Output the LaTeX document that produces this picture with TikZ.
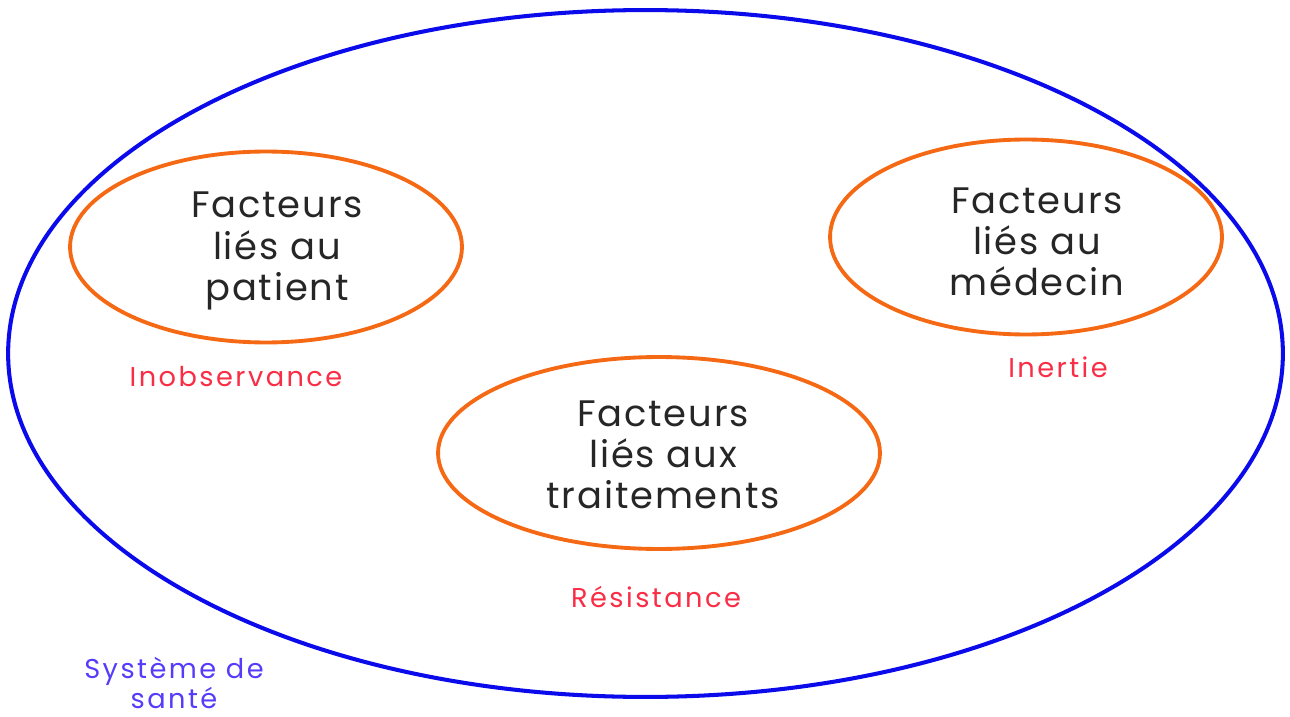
\documentclass[tikz,border=0pt]{standalone}
\usepackage{fontspec}
\setmainfont{Poppins}
\newfontfamily\factorfont[LetterSpace=5]{Poppins}
\newfontfamily\tagfont[LetterSpace=9]{Poppins}
\usetikzlibrary{shapes.geometric}

\definecolor{sysblue}{RGB}{10,10,235}
\definecolor{ringorange}{RGB}{245,105,20}
\definecolor{tagred}{RGB}{250,45,70}
\definecolor{systext}{RGB}{85,60,250}

\begin{document}
\begin{tikzpicture}[
  x=0.02cm, y=-0.02cm,
  sysring/.style={draw=sysblue, ellipse, line width=2.3pt, inner sep=0pt},
  ring/.style={draw=ringorange, ellipse, line width=2.2pt, inner sep=0pt},
  factor/.style={align=center, font=\factorfont\fontsize{21}{23.5}\selectfont, text=black!85},
  tag/.style={font=\tagfont\fontsize{15.5}{17}\selectfont, text=tagred},
]
\useasboundingbox (0,0) rectangle (1290,716);

% ---- health system ------------------------------------------------------
\node[sysring, minimum width=25.5cm, minimum height=13.74cm] (systeme) at (645.5,353.5) {};
\node[tag, text=systext, align=center] (systemelbl) at (174,683) {Système de\\santé};

% ---- the three families of factors --------------------------------------
\node[ring, minimum width=7.84cm, minimum height=3.82cm] (patient) at (266,247) {};
\node[ring, minimum width=7.84cm, minimum height=3.9cm] (medecin) at (1026,237) {};
\node[ring, minimum width=8.84cm, minimum height=3.84cm] (traitement) at (659,453) {};

\node[factor] (patienttxt) at (277,251) {Facteurs\\liés au\\patient};
\node[factor] (medecintxt) at (1037,242) {Facteurs\\liés au\\médecin};
\node[factor] (traitementtxt) at (663,455) {Facteurs\\liés aux\\traitements};

% ---- what each one leads to ---------------------------------------------
\node[tag] (inobs) at (236,377) {Inobservance};
\node[tag] (inertie) at (1058,367) {Inertie};
\node[tag] (resist) at (656,597) {Résistance};
\end{tikzpicture}
\end{document}
